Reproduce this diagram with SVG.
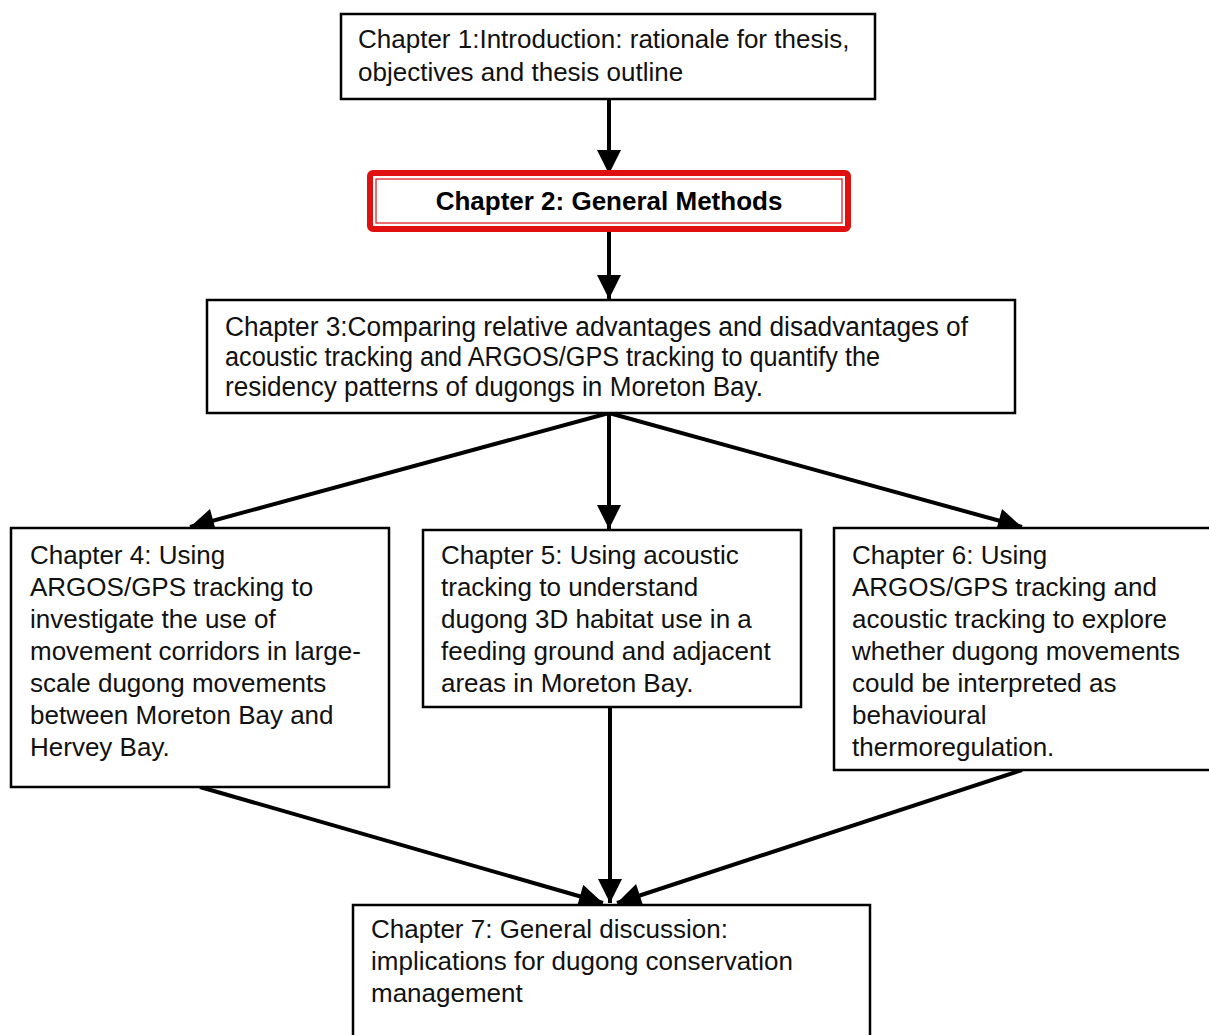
<svg xmlns="http://www.w3.org/2000/svg" width="1209" height="1035" viewBox="0 0 1209 1035">
<style>
.box{fill:#fff;stroke:#000;stroke-width:2.5}
.t{font-family:"Liberation Sans",Arial,sans-serif;font-size:26px;fill:#111}
.n{font-family:"Liberation Sans",Arial,sans-serif;font-size:27px;fill:#111}
.b{font-family:"Liberation Sans",Arial,sans-serif;font-size:26px;font-weight:bold;fill:#000}
.c{stroke:#000;stroke-width:4;fill:none}
</style>
<defs>
<marker id="ah" viewBox="0 0 10 10" refX="10" refY="5" markerWidth="6.5" markerHeight="6" markerUnits="strokeWidth" orient="auto">
<path d="M0,0 L10,5 L0,10 z" fill="#000"/>
</marker>
</defs>
<g id="connectors">
<line class="c" x1="609" y1="99" x2="609" y2="174" marker-end="url(#ah)"/>
<line class="c" x1="609" y1="230" x2="609" y2="299" marker-end="url(#ah)"/>
<line class="c" x1="609" y1="413" x2="190" y2="527" marker-end="url(#ah)"/>
<line class="c" x1="609" y1="413" x2="609" y2="529" marker-end="url(#ah)"/>
<line class="c" x1="609" y1="413" x2="1022" y2="527" marker-end="url(#ah)"/>
<line class="c" x1="200" y1="787" x2="603" y2="903" marker-end="url(#ah)"/>
<line class="c" x1="610" y1="707" x2="610" y2="903" marker-end="url(#ah)"/>
<line class="c" x1="1022" y1="770" x2="617" y2="903" marker-end="url(#ah)"/>
</g>
<g id="ch1">
<rect class="box" x="341" y="14" width="534" height="85"/>
<text class="t" x="358" y="48">Chapter 1:Introduction: rationale for thesis,</text>
<text class="t" x="358" y="81">objectives and thesis outline</text>
</g>
<g id="ch2">
<rect x="370" y="173" width="478" height="56" rx="3" fill="#fff" stroke="#e01010" stroke-width="6"/>
<rect x="376" y="179" width="466" height="44" fill="none" stroke="#e01010" stroke-width="1.2"/>
<text class="b" x="609" y="210" text-anchor="middle">Chapter 2: General Methods</text>
</g>
<g id="ch3">
<rect class="box" x="207" y="300" width="808" height="113"/>
<text class="n" x="225" y="336" textLength="743" lengthAdjust="spacingAndGlyphs">Chapter 3:Comparing relative advantages and disadvantages of</text>
<text class="n" x="225" y="366" textLength="655" lengthAdjust="spacingAndGlyphs">acoustic tracking and ARGOS/GPS tracking to quantify the</text>
<text class="n" x="225" y="396" textLength="538" lengthAdjust="spacingAndGlyphs">residency patterns of dugongs in Moreton Bay.</text>
</g>
<g id="ch4">
<rect class="box" x="11" y="528" width="378" height="259"/>
<text class="t" x="30" y="564">Chapter 4: Using</text>
<text class="t" x="30" y="596">ARGOS/GPS tracking to</text>
<text class="t" x="30" y="628">investigate the use of</text>
<text class="t" x="30" y="660">movement corridors in large-</text>
<text class="t" x="30" y="692">scale dugong movements</text>
<text class="t" x="30" y="724">between Moreton Bay and</text>
<text class="t" x="30" y="756">Hervey Bay.</text>
</g>
<g id="ch5">
<rect class="box" x="423" y="530" width="378" height="177"/>
<text class="t" x="441" y="564">Chapter 5: Using acoustic</text>
<text class="t" x="441" y="596">tracking to understand</text>
<text class="t" x="441" y="628">dugong 3D habitat use in a</text>
<text class="t" x="441" y="660">feeding ground and adjacent</text>
<text class="t" x="441" y="692">areas in Moreton Bay.</text>
</g>
<g id="ch6">
<rect class="box" x="834" y="528" width="380" height="242"/>
<text class="t" x="852" y="564">Chapter 6: Using</text>
<text class="t" x="852" y="596">ARGOS/GPS tracking and</text>
<text class="t" x="852" y="628">acoustic tracking to explore</text>
<text class="t" x="852" y="660">whether dugong movements</text>
<text class="t" x="852" y="692">could be interpreted as</text>
<text class="t" x="852" y="724">behavioural</text>
<text class="t" x="852" y="756">thermoregulation.</text>
</g>
<g id="ch7">
<rect class="box" x="353" y="905" width="517" height="140"/>
<text class="t" x="371" y="938">Chapter 7: General discussion:</text>
<text class="t" x="371" y="970">implications for dugong conservation</text>
<text class="t" x="371" y="1002">management</text>
</g>
</svg>
